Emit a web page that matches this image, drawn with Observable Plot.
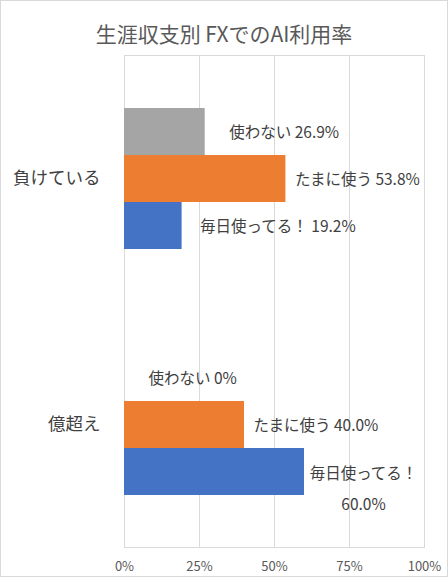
<!DOCTYPE html>
<html>
<head>
<meta charset="utf-8">
<script src="https://cdn.jsdelivr.net/npm/d3@7"></script>
<script src="https://cdn.jsdelivr.net/npm/@observablehq/plot@0.6"></script>
<style>
  html, body { margin: 0; padding: 0; background: #ffffff; }
  #chart {
    position: relative; width: 448px; height: 577px; background: #ffffff;
    outline: 1px solid #d9d9d9; outline-offset: -1px; overflow: hidden;
    font-family: "Noto Sans CJK JP", "Noto Sans", sans-serif;
  }
  #title {
    height: 50px; box-sizing: border-box; padding-top: 20px;
    font-size: 21px; line-height: 26px; color: #595959; text-align: center;
  }
  #chart svg { display: block; }
</style>
</head>
<body>
<div id="chart">
  <div id="title">生涯収支別 FXでのAI利用率</div>
</div>
<script>
// ---- data ----
const categories = ["負けている", "億超え"];
const series = ["使わない", "たまに使う", "毎日使ってる！"];
const losingValues = [26.9, 53.8, 19.2];   // 負けている
const overOkuValues = [0, 40.0, 60.0];     // 億超え
const xTicks = [0, 25, 50, 75, 100];

// ---- styles ----
const colors = ["#a5a5a5", "#ed7d31", "#4472c4"];
const labelDx = [24, 9, 18];
const wrapAbove = 55;

const valueTable = [losingValues, overOkuValues];
const rows = [];
categories.forEach((cat, ci) => {
  series.forEach((s, si) => rows.push({cat, series: s, value: valueTable[ci][si], si}));
});
const fmt = v => (v === 0 ? "0" : v.toFixed(1)) + "%";
const wraps = d => d.value > wrapAbove;

const labelMarks = series.map((s, i) =>
  Plot.text(rows.filter(d => d.series === s && !wraps(d)), {
    x: "value", y: "series", fy: "cat",
    text: d => `${d.series} ${fmt(d.value)}`,
    textAnchor: "start", dx: labelDx[i], dy: 1,
    fontSize: 15.5, fill: "#404040"
  })
);

const chart = Plot.plot({
  width: 448,
  height: 527,
  marginTop: 5,
  marginBottom: 30,
  marginLeft: 124,
  marginRight: 24,
  style: {fontFamily: "'Noto Sans CJK JP', 'Noto Sans', sans-serif", fontSize: "13px", color: "#595959", background: "#ffffff"},
  x: {domain: [0, 100], label: null},
  y: {domain: series, paddingInner: 0, paddingOuter: 1.117, axis: null, label: null},
  fy: {domain: categories, padding: 0, label: null},
  color: {domain: series, range: colors},
  marks: [
    Plot.gridX(xTicks, {stroke: "#d9d9d9", strokeOpacity: 1, strokeWidth: 1}),
    Plot.frame({stroke: "#d9d9d9", facet: "super"}),
    Plot.barX(rows, {x: "value", y: "series", fy: "cat", fill: "series"}),
    ...labelMarks,
    Plot.text(rows.filter(wraps), {
      x: "value", y: "series", fy: "cat",
      text: d => `${d.series}\n${fmt(d.value)}`,
      textAnchor: "middle", lineHeight: 2, dx: 59, dy: 13,
      fontSize: 15.5, fill: "#404040"
    }),
    Plot.axisFy({anchor: "left", tickSize: 0, tickPadding: 24, fontSize: 17.5, label: null, fill: "#404040"}),
    Plot.axisX({ticks: xTicks, tickFormat: d => d + "%", tickSize: 0, tickPadding: 14, label: null, fontSize: 13})
  ]
});
document.getElementById("chart").appendChild(chart);
</script>
</body>
</html>
